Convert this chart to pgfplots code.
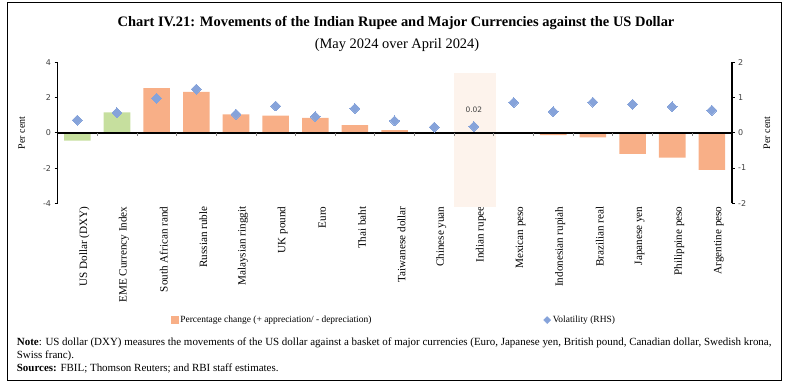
\documentclass[border=0pt]{standalone}
\usepackage{fontspec}
\setmainfont{Liberation Serif}
\newfontfamily\tickfont{DejaVu Sans}
\usepackage{pgfplots}
\pgfplotsset{compat=1.18}
\definecolor{barorange}{HTML}{F8AF87}
\definecolor{bargreen}{HTML}{C6DF9E}
\definecolor{diamondcol}{HTML}{86A3DA}
\definecolor{bandcol}{HTML}{FDF3EC}
\definecolor{tickgray}{HTML}{404040}
\begin{document}
\begin{tikzpicture}[x=1bp,y=1bp]
\useasboundingbox (0,0) rectangle (792,391);
\draw[line width=0.8bp] (7.3,11) rectangle (781.7,388.7);
\node[font=\bfseries\fontsize{14.5}{16}\selectfont] at (396,368) {Chart IV.21: Movements of the Indian Rupee and Major Currencies against the US Dollar};
\node[font=\fontsize{14.5}{16}\selectfont] at (397,346) {(May 2024 over April 2024)};
\node[rotate=90, font=\fontsize{10}{11}\selectfont] at (21.7,258) {Per cent};
\node[rotate=90, font=\fontsize{10}{11}\selectfont] at (767,258) {Per cent};
\begin{axis}[
  at={(57.5bp,187.7bp)}, anchor=south west, scale only axis,
  width=674.2bp, height=141bp,
  xmin=-0.5, xmax=16.5, ymin=-4, ymax=4,
  axis y line*=left, axis x line*=bottom,
  x axis line style={draw=none},
  y axis line style={line width=1.6bp, -},
  ytick={-4,-2,0,2,4},
  tick align=outside, major tick length=3bp,
  y tick style={black, line width=0.8bp},
  xtick={0,...,16},
  x tick style={draw=none},
  xticklabels={US Dollar (DXY), EME Currency Index, South African rand, Russian ruble, Malaysian ringgit, UK pound, Euro, Thai baht, Taiwanese dollar, Chinese yuan, Indian rupee, Mexican peso, Indonesian rupiah, Brazilian real, Japanese yen, Philippine peso, Argentine peso},
  xticklabel style={rotate=90, anchor=east, font=\fontsize{11.2}{12}\selectfont, inner sep=0pt, yshift=-7bp},
  yticklabel style={font=\tickfont\fontsize{8}{9}\selectfont, text=tickgray},
  /pgf/number format/assume math mode=true,
  legend columns=2,
  legend style={at={(axis description cs:0.168,-0.828)}, anchor=west, draw=none, fill=none, inner sep=0pt,
    font=\fontsize{9.5}{11}\selectfont, /tikz/every even column/.append style={column sep=170bp}},
  legend cell align=left,
  clip=false,
]
\addplot[fill=bandcol, draw=none, forget plot] coordinates {(9.5,-4.19) (10.55,-4.19) (10.55,3.38) (9.5,3.38)} -- cycle;
\addplot[ybar, bar width=0.67, bar shift=0, fill=bargreen, draw=none, forget plot] coordinates {(0,-0.45) (1,1.16)};
\addplot[ybar, bar width=0.67, bar shift=0, fill=barorange, draw=none, forget plot] coordinates {
(2,2.53) (3,2.32) (4,1.05) (5,0.97) (6,0.84) (7,0.43) (8,0.15) (9,0.04) (10,0.02) (11,0.01) (12,-0.13) (13,-0.26) (14,-1.19) (15,-1.41) (16,-2.1)};
\addplot[black, line width=1.6bp, forget plot] coordinates {(-0.5,0) (16.5,0)};
\addplot[ycomb, gray, no marks, line width=0.6bp, forget plot] coordinates {
(0.5,-0.18) (1.5,-0.18) (2.5,-0.18) (3.5,-0.18) (4.5,-0.18) (5.5,-0.18) (6.5,-0.18) (7.5,-0.18) (8.5,-0.18) (9.5,-0.18) (10.5,-0.18) (11.5,-0.18) (12.5,-0.18) (13.5,-0.18) (14.5,-0.18) (15.5,-0.18)};
\node[font=\tickfont\fontsize{7.5}{9}\selectfont, text=tickgray] at (axis cs:10,1.33) {0.02};
\addlegendimage{legend image code/.code={\fill[barorange] (0bp,-3.5bp) rectangle (7bp,3.5bp);}}
\addlegendentry{Percentage change (+ appreciation/ - depreciation)}
\addlegendimage{legend image code/.code={\fill[diamondcol] (3.5bp,-3.5bp) -- (7bp,0bp) -- (3.5bp,3.5bp) -- (0bp,0bp) -- cycle;}}
\addlegendentry{Volatility (RHS)}
\end{axis}
\begin{axis}[
  at={(57.5bp,187.7bp)}, anchor=south west, scale only axis,
  width=674.2bp, height=141bp,
  xmin=-0.5, xmax=16.5, ymin=-2, ymax=2,
  axis y line*=right, axis x line=none,
  y axis line style={line width=1.6bp, -},
  ytick={-2,-1,0,1,2},
  tick align=outside, major tick length=3bp,
  y tick style={black, line width=0.8bp},
  yticklabel style={font=\tickfont\fontsize{8}{9}\selectfont, text=tickgray},
  /pgf/number format/assume math mode=true,
]
\addplot[color=diamondcol, only marks, mark=square*, mark size=3.5bp, mark options={rotate=45, fill=diamondcol, draw=diamondcol, line width=0pt}] coordinates {
(0,0.36) (1,0.57) (2,0.98) (3,1.24) (4,0.53) (5,0.76) (6,0.46) (7,0.69) (8,0.34) (9,0.16) (10,0.18) (11,0.86) (12,0.60) (13,0.87) (14,0.81) (15,0.74) (16,0.64)};
\end{axis}
\node[anchor=north west, align=left, font=\fontsize{11}{13.2}\selectfont, inner sep=0pt] at (16.7,53.5) {\textbf{Note}: US dollar (DXY) measures the movements of the US dollar against a basket of major currencies (Euro, Japanese yen, British pound, Canadian dollar, Swedish krona,\\ Swiss franc).\\ \textbf{Sources:} FBIL; Thomson Reuters; and RBI staff estimates.};
\end{tikzpicture}
\end{document}
